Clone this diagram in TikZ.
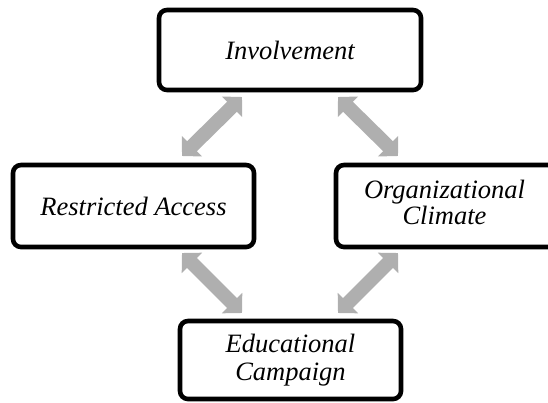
\documentclass[tikz,border=0pt]{standalone}
\usepackage{fontspec}
\setmainfont{Liberation Serif}
\usetikzlibrary{arrows.meta}
\definecolor{arrowgray}{RGB}{175,175,175}
\begin{document}
\begin{tikzpicture}[x=1pt,y=-1pt,
  box/.style={draw=black, line width=4.6pt, rounded corners=8pt, inner sep=0pt,
    align=center, font=\fontsize{26.5}{28}\selectfont\itshape},
  biarrow/.style={draw=arrowgray, line width=14pt,
    {Triangle[width=28pt,length=14pt]}-{Triangle[width=28pt,length=14pt]}}]
\useasboundingbox (0,0) rectangle (548,402);
\node[box, minimum width=262pt, minimum height=80pt] (inv) at (290,50) {Involvement};
\node[box, minimum width=241pt, minimum height=82pt] (ra) at (133.5,206) {Restricted Access};
\node[box, minimum width=250pt, minimum height=82pt] (oc) at (461,206)
  {\makebox[194pt][l]{\begin{tabular}{@{}c@{}}Organizational\\[-2pt]Climate\end{tabular}}};
\node[box, minimum width=221pt, minimum height=78pt] (ec) at (290.5,360) {Educational\\Campaign};
\coordinate (ulA) at (182,156);
\coordinate (ulB) at (242,97);
\coordinate (urA) at (338,97);
\coordinate (urB) at (398,156);
\coordinate (llA) at (182,253);
\coordinate (llB) at (242,313);
\coordinate (lrA) at (398,253);
\coordinate (lrB) at (338,313);
\draw[biarrow] (ulA) -- (ulB);
\draw[biarrow] (urA) -- (urB);
\draw[biarrow] (llA) -- (llB);
\draw[biarrow] (lrA) -- (lrB);
\end{tikzpicture}
\end{document}
